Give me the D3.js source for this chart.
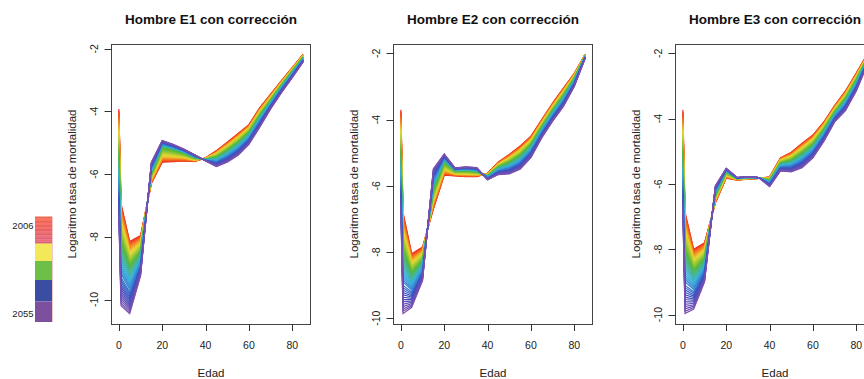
<!DOCTYPE html>
<html>
<head>
<meta charset="utf-8">
<script src="https://cdn.jsdelivr.net/npm/d3@7"></script>
<style>
  html, body { margin: 0; padding: 0; background: #fff; }
  svg { display: block; font-family: "Liberation Sans", Arial, sans-serif; }
</style>
</head>
<body>
<svg id="chart" width="864" height="379"></svg>
<script>
// ---------------- DATA ----------------
const ages = [0, 1, 5, 10, 15, 20, 25, 30, 35, 40, 45, 50, 55, 60, 65, 70, 75, 80, 85];

const years = [2006, 2007, 2008, 2009, 2010, 2011, 2012, 2013, 2014, 2015,
               2016, 2017, 2018, 2019, 2020, 2021, 2022, 2023, 2024, 2025,
               2026, 2027, 2028, 2029, 2030, 2031, 2032, 2033, 2034, 2035,
               2036, 2037, 2038, 2039, 2040, 2041, 2042, 2043, 2044, 2045,
               2046, 2047, 2048, 2049, 2050, 2051, 2052, 2053, 2054, 2055];

// mortality index per year (0 = 2006 level, 0.5 = 2030 level, 1 = 2055 level)
const kt = [0.00, 0.02, 0.04, 0.06, 0.08, 0.10, 0.12, 0.14, 0.16, 0.18,
            0.20, 0.22, 0.24, 0.27, 0.29, 0.31, 0.33, 0.35, 0.37, 0.39,
            0.41, 0.43, 0.45, 0.47, 0.50, 0.51, 0.53, 0.55, 0.57, 0.59,
            0.61, 0.63, 0.65, 0.67, 0.69, 0.71, 0.73, 0.76, 0.78, 0.80,
            0.82, 0.84, 0.86, 0.88, 0.90, 0.92, 0.94, 0.96, 0.98, 1.00];

const titles = ["Hombre E1 con corrección", "Hombre E2 con corrección", "Hombre E3 con corrección"];

// Panel E1: log mortality by age for 2006, 2030, 2055
const e1_2006 = [-3.92, -6.94, -8.15, -7.96, -6.30, -5.62, -5.60, -5.58, -5.60, -5.48, -5.25, -4.98, -4.70, -4.42, -3.88, -3.45, -3.02, -2.60, -2.18];
const e1_2030 = [-5.47, -8.31, -9.02, -8.54, -5.96, -5.12, -5.20, -5.31, -5.47, -5.53, -5.48, -5.27, -5.02, -4.70, -4.16, -3.68, -3.19, -2.74, -2.29];
const e1_2055 = [-7.37, -10.20, -10.45, -9.25, -5.62, -4.93, -5.05, -5.20, -5.38, -5.58, -5.76, -5.62, -5.40, -5.05, -4.50, -3.92, -3.40, -2.92, -2.42];

// Panel E2
const e2_2006 = [-3.70, -6.80, -8.05, -7.85, -6.70, -5.68, -5.70, -5.72, -5.72, -5.62, -5.28, -5.05, -4.80, -4.50, -4.00, -3.50, -3.05, -2.60, -2.03];
const e2_2030 = [-5.07, -8.09, -8.70, -8.30, -6.09, -5.26, -5.54, -5.53, -5.56, -5.71, -5.45, -5.32, -5.12, -4.79, -4.25, -3.75, -3.30, -2.78, -2.08];
const e2_2055 = [-6.74, -9.86, -9.67, -8.86, -5.48, -5.04, -5.46, -5.43, -5.45, -5.82, -5.66, -5.64, -5.50, -5.15, -4.55, -4.05, -3.60, -3.00, -2.15];

// Panel E3
const e3_2006 = [-3.73, -6.86, -8.00, -7.80, -6.58, -5.82, -5.88, -5.85, -5.83, -5.78, -5.20, -5.03, -4.75, -4.50, -4.10, -3.60, -3.15, -2.60, -2.03];
const e3_2030 = [-5.13, -8.17, -8.73, -8.34, -6.32, -5.62, -5.83, -5.80, -5.81, -5.90, -5.38, -5.30, -5.09, -4.82, -4.37, -3.83, -3.42, -2.85, -2.17];
const e3_2055 = [-6.84, -9.97, -9.83, -9.00, -6.05, -5.52, -5.80, -5.78, -5.80, -6.08, -5.60, -5.63, -5.50, -5.20, -4.70, -4.10, -3.75, -3.15, -2.35];

const xTicks = [0, 20, 40, 60, 80];
const yTicks = [-10, -8, -6, -4, -2];
const xTitle = "Edad";
const yTitle = "Logaritmo tasa de mortalidad";
const legendLabels = ["2006", "2055"];

// ---------------- STYLE ----------------
const colorStops = [0, 0.10, 0.22, 0.45, 0.65, 0.83, 1];
const colorValues = ["#F02A1A", "#F57A20", "#E8D830", "#55B83A", "#35B0E0", "#3A50C0", "#7A50B0"];
const lineColor = d3.scaleLinear().domain(colorStops).range(colorValues).interpolate(d3.interpolateRgb);

const panels = [
  { title: titles[0], a: e1_2006, m: e1_2030, b: e1_2055 },
  { title: titles[1], a: e2_2006, m: e2_2030, b: e2_2055 },
  { title: titles[2], a: e3_2006, m: e3_2030, b: e3_2055 }
];

const svg = d3.select("#chart");
const boxW = 199, boxTop = 44, boxBottom = 324;
const panelLeft = [111.5, 393.5, 675.5];

function valueAt(p, j, k) {
  if (k <= 0.5) return p.a[j] + (p.m[j] - p.a[j]) * (k / 0.5);
  return p.m[j] + (p.b[j] - p.m[j]) * ((k - 0.5) / 0.5);
}

panels.forEach((p, pi) => {
  const left = panelLeft[pi];
  const g = svg.append("g");
  const all = p.a.concat(p.m, p.b);
  const lo = d3.min(all), hi = d3.max(all), r = hi - lo;
  const x = d3.scaleLinear().domain([-0.04 * 85, 85 * 1.04]).range([left, left + boxW]);
  const y = d3.scaleLinear().domain([lo - 0.04 * r, hi + 0.04 * r]).range([boxBottom, boxTop]);

  // lines
  const line = d3.line().x(d => x(d[0])).y(d => y(d[1]));
  years.forEach((yr, i) => {
    const pts = ages.map((a, j) => [a, valueAt(p, j, kt[i])]);
    g.append("path")
      .attr("d", line(pts))
      .attr("fill", "none")
      .attr("stroke", lineColor(i / (years.length - 1)))
      .attr("stroke-width", 1.2);
  });

  // box
  g.append("rect")
    .attr("x", left).attr("y", boxTop + 0.5)
    .attr("width", boxW).attr("height", boxBottom - boxTop)
    .attr("fill", "none").attr("stroke", "#444").attr("stroke-width", 1);

  // x axis ticks
  const xa = g.append("g");
  xTicks.forEach(t => {
    const px = Math.round(x(t)) + 0.5;
    xa.append("line").attr("x1", px).attr("x2", px).attr("y1", boxBottom + 0.5).attr("y2", boxBottom + 7)
      .attr("stroke", "#333");
    xa.append("text").attr("x", x(t)).attr("y", 349).attr("text-anchor", "middle")
      .attr("font-size", "10.5px").attr("fill", "#222").text(t);
  });
  g.append("text").attr("x", left + boxW / 2).attr("y", 377).attr("text-anchor", "middle")
    .attr("font-size", "11.5px").attr("fill", "#222").text(xTitle);

  // y axis ticks
  yTicks.forEach(t => {
    const py = Math.round(y(t)) + 0.5;
    g.append("line").attr("x1", left - 7).attr("x2", left).attr("y1", py).attr("y2", py)
      .attr("stroke", "#333");
    g.append("text").attr("transform", `translate(${left - 14},${y(t)}) rotate(-90)`)
      .attr("text-anchor", "middle").attr("font-size", "10.5px").attr("fill", "#222").text(t);
  });
  g.append("text").attr("transform", `translate(${left - 36},${(boxTop + boxBottom) / 2}) rotate(-90)`)
    .attr("text-anchor", "middle").attr("font-size", "11.5px").attr("fill", "#222").text(yTitle);

  // title
  g.append("text").attr("x", left + boxW / 2).attr("y", 24).attr("text-anchor", "middle")
    .attr("font-size", "13.5px").attr("font-weight", "bold").attr("fill", "#111").text(p.title);
});

// ---------------- LEGEND ----------------
const lg = svg.append("g");
const legX = 35, legW = 17;
const redTop = 216.5, redBottom = 243.5;
const stripeCol = d3.scaleLinear().domain([0, 1]).range(["#EC6A55", "#D6607A"]);
const nStripes = 13;
for (let s = 0; s < nStripes; s++) {
  const h = (redBottom - redTop) / nStripes;
  lg.append("rect").attr("x", legX).attr("y", redTop + s * h).attr("width", legW).attr("height", h + 0.3)
    .attr("fill", s % 2 ? d3.color(stripeCol(s / nStripes)).brighter(0.25) : stripeCol(s / nStripes));
}
const legBlocks = [
  { y0: 243.5, y1: 261, c: "#F2E85A" },
  { y0: 261, y1: 280, c: "#6EBF48" },
  { y0: 280, y1: 301.5, c: "#3A4DA2" },
  { y0: 301.5, y1: 322, c: "#7D4F9F" }
];
legBlocks.forEach(b => {
  lg.append("rect").attr("x", legX).attr("y", b.y0).attr("width", legW).attr("height", b.y1 - b.y0).attr("fill", b.c);
});
lg.append("line").attr("x1", legX + legW + 0.5).attr("x2", legX + legW + 0.5).attr("y1", redTop).attr("y2", 322)
  .attr("stroke", "#F2C8C8").attr("stroke-width", 1);
lg.append("text").attr("x", 33.5).attr("y", 229).attr("text-anchor", "end").attr("font-size", "9.5px").attr("fill", "#222").text(legendLabels[0]);
lg.append("text").attr("x", 33.5).attr("y", 316.5).attr("text-anchor", "end").attr("font-size", "9.5px").attr("fill", "#222").text(legendLabels[1]);
</script>
</body>
</html>
